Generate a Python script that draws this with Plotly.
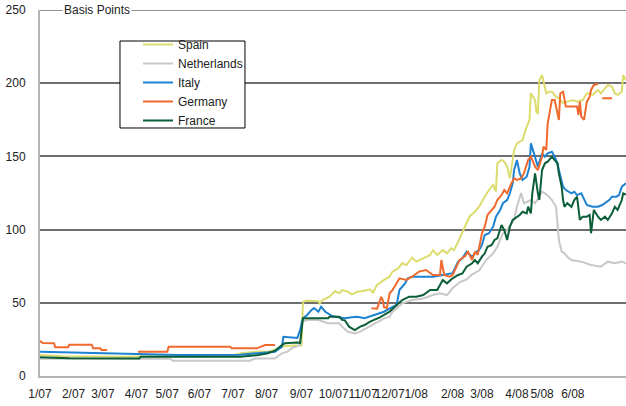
import plotly.graph_objects as go

# trading-day index of each observation and spread values (basis points)
spain_day = [0, 16, 57, 114, 136, 144, 154, 163, 168, 175, 184, 187, 188, 191, 199, 200, 202, 207, 211, 214, 216, 220, 223, 227, 232, 236, 238, 241, 246, 250, 252, 256, 259, 262, 266, 269, 274, 279, 281, 284, 288, 291, 294, 296, 299, 301, 304, 306, 307, 311, 314, 318, 321, 324, 326, 327, 330, 332, 334, 336, 338, 339, 341, 345, 348, 350, 351, 354, 355, 356, 357, 359, 362, 364, 366, 369, 371, 374, 377, 381, 384, 388, 391, 393, 395, 399, 401, 404, 406, 409, 411, 413, 416, 417, 419]
spain_bp = [14.3, 13.5, 13.2, 13.3, 13.8, 15.5, 16.6, 16.6, 18, 20.5, 21, 21, 50.7, 51.4, 51, 49.6, 51.9, 54.2, 58, 56.5, 58.7, 57.6, 55.8, 57.6, 58.3, 59.2, 56.9, 62.2, 65.6, 67.8, 71.3, 73.5, 77, 75.8, 81, 78.1, 80.4, 82.7, 86, 82.7, 86, 83.8, 87.2, 86, 91.7, 96.3, 103, 107.7, 108.8, 112.2, 115.6, 122.5, 127, 130.5, 125.9, 145.3, 147.5, 146.4, 143, 135, 147.5, 154.4, 158.9, 161.2, 170.3, 174.9, 193.1, 188.5, 180, 179.6, 202, 205.6, 193, 194.2, 194.2, 190.8, 189.7, 186.3, 187.4, 188.5, 187.4, 188.5, 193, 193, 192, 195.4, 193, 196.5, 198.8, 197.6, 193, 192, 194.2, 205.6, 202]

neth_day = [0, 93, 95, 150, 154, 168, 173, 177, 180, 184, 186, 187, 191, 199, 206, 214, 216, 220, 225, 229, 232, 237, 241, 246, 250, 252, 255, 259, 266, 274, 281, 286, 291, 295, 300, 305, 309, 314, 319, 324, 327, 331, 334, 337, 339, 341, 344, 346, 349, 351, 354, 356, 359, 361, 364, 366, 369, 370, 371, 373, 375, 377, 380, 387, 394, 401, 406, 411, 416, 419]
neth_bp = [11.8, 11.8, 10.5, 10.5, 12, 12, 15.5, 16.6, 19, 20, 21, 37, 38.3, 38.3, 36, 36, 33.7, 30.3, 29.1, 30.3, 31.9, 34.8, 37.1, 39.4, 40.5, 43.9, 46.2, 49.6, 51.9, 53, 55.3, 56.5, 55.3, 59.9, 64, 66, 69.5, 72, 79.2, 83.8, 88.3, 97.5, 99.7, 104.3, 106.6, 115.6, 125, 118, 119.1, 120.2, 118, 121, 125.9, 124.8, 122.5, 120.2, 115.6, 104.3, 92.9, 84.9, 83.8, 81.5, 79.2, 78.1, 75.8, 74.7, 78.1, 77, 78.1, 77]

italy_day = [0, 57, 71, 100, 143, 156, 168, 173, 174, 184, 186, 188, 191, 194, 196, 199, 201, 204, 206, 209, 213, 218, 223, 227, 232, 237, 241, 246, 250, 255, 257, 261, 263, 266, 274, 281, 288, 295, 299, 302, 305, 309, 312, 314, 316, 318, 321, 324, 326, 329, 331, 334, 336, 338, 339, 341, 343, 345, 348, 350, 351, 354, 356, 359, 361, 363, 366, 368, 370, 371, 373, 374, 376, 380, 382, 384, 387, 389, 391, 395, 399, 402, 405, 407, 409, 412, 414, 416, 419]
italy_bp = [16.6, 15.5, 14.8, 14.3, 14.5, 15.5, 16.6, 20, 26.8, 26, 31.4, 39.4, 41.7, 45, 46.4, 43.9, 47.3, 43.9, 42.8, 41, 40.1, 39.4, 40.1, 40.5, 39.4, 41, 42.8, 43.9, 46.2, 48.5, 58.7, 63.3, 66.7, 67.8, 67.8, 67.8, 69, 70.2, 78.1, 80.4, 84.9, 81.5, 84.9, 86, 89.5, 96.3, 97.5, 102, 108.8, 113.4, 118, 120.2, 124.8, 131.6, 140.7, 147.5, 138.4, 133.9, 136.1, 143, 158.9, 149.8, 143, 152.1, 149.8, 152.1, 153.2, 149.8, 145.3, 140.7, 131.6, 129.3, 127, 124.8, 125.9, 123.6, 124.8, 120.2, 116.8, 115.6, 115.6, 116.8, 119.1, 120.2, 122.5, 122.5, 123.6, 129.3, 131.6]

germany_day = [0, 2, 10, 11, 20, 21, 37, 38, 43, 44, 48, 55,
               70, 91, 92, 136, 137, 155, 161, 168, 200,
               237, 241, 244, 245, 246, 248, 250, 252, 255, 257, 262, 266, 271, 276, 281, 286, 287, 289, 293, 295, 300, 304, 306, 309, 311, 313, 316, 318, 320, 323, 325, 327, 330, 332, 334, 337, 339, 341, 344, 346, 349, 351, 354, 356, 359, 360, 362, 363, 366, 368, 370, 371, 372, 374, 376, 380, 384, 385, 386, 387, 389, 391, 393, 394, 396, 399, 400.5,
               402, 409]
germany_bp = [24, 22.5, 22.3, 19.6, 19.6, 21.4, 21.4, 18.9, 18.9, 17.8, 17.8, None,
              16.6, 16.6, 20, 20, 18.9, 18.9, 21.2, 21.2, None,
              46.2, 46, 54, 52, 47, 46.5, 56.5, 58.7, 63.3, 66.7, 65.6, 67.8, 71.3, 72.4, 69, 69, 79.2, 69, 67.8, 69, 79.2, 82, 84.9, 79.2, 84.9, 82.7, 97.5, 102, 110, 113.4, 115.6, 120.2, 123.6, 127, 124.8, 131.6, 135, 133.9, 135, 138.4, 147.5, 149.8, 143, 140.7, 149.8, 156.6, 154.4, 172.6, 188.5, 188.5, 179.4, 174.9, 193, 194.2, 184, 184, 184, 178.3, 187.4, 177.2, 174.9, 187.4, 190.8, 195.4, 198.8, 199.5, None,
              189.7, 189.7]

france_day = [0, 21, 71, 72, 143, 156, 163, 168, 173, 175, 184, 186, 188, 206, 207, 214, 216, 218, 221, 225, 229, 232, 236, 239, 243, 246, 250, 255, 259, 264, 269, 274, 279, 284, 288, 291, 295, 299, 302, 305, 309, 311, 313, 316, 318, 320, 323, 325, 327, 330, 332, 334, 336, 338, 341, 343, 345, 348, 349, 351, 352, 354, 356, 357, 359, 361, 363, 366, 368, 370, 371, 373, 374, 375, 377, 380, 382, 384, 386, 388, 391, 393, 394, 396, 399, 401, 404, 406, 409, 411, 413, 416, 417, 419]
france_bp = [12.8, 12.2, 12, 13.2, 13.2, 14.3, 15.5, 17.3, 21.2, 22.3, 22.8, 22.5, 39.4, 39.4, 40.5, 40.5, 38.3, 38, 33.7, 31.4, 33.7, 34.8, 37.1, 38.3, 40.1, 41.7, 44, 48.5, 51.9, 54.2, 54.2, 55.3, 58.7, 58.7, 65.6, 63.3, 66.7, 69, 70, 74.7, 77, 79.2, 77, 81.5, 83.8, 88.3, 89.5, 92.9, 94, 103.1, 99.7, 92.9, 102, 106.6, 108.8, 110, 112.2, 111.1, 115.6, 111.1, 124.8, 138.4, 124.8, 120.2, 140.7, 145.3, 146.4, 149.8, 147.5, 145.3, 138.4, 129.3, 120.2, 115.6, 118, 115.6, 120.2, 122.5, 106.6, 108.8, 108.8, 110, 97.5, 113.4, 108.8, 106.6, 108.8, 106.6, 111.1, 115.6, 113.4, 120.2, 124.8, 124]

tick_days = [0, 24, 45, 69, 91, 114, 138, 162, 187, 210, 231, 250, 269, 295, 316, 341, 359, 381]
tick_labels = ["1/07", "2/07", "3/07", "4/07", "5/07", "6/07", "7/07", "8/07", "9/07",
               "10/07", "11/07", "12/07", "1/08", "2/08", "3/08", "4/08", "5/08", "6/08"]
y_ticks = [0, 50, 100, 150, 200, 250]

series = [
    ("Spain", spain_day, spain_bp, "#dcdc6e"),
    ("Netherlands", neth_day, neth_bp, "#c8c8c8"),
    ("Italy", italy_day, italy_bp, "#1e82d2"),
    ("Germany", germany_day, germany_bp, "#f0692d"),
    ("France", france_day, france_bp, "#0b5e38"),
]

fig = go.Figure()
for name, xs, ys, color in series:
    fig.add_trace(go.Scatter(x=xs, y=ys, name=name, mode="lines",
                             line=dict(color=color, width=2), connectgaps=False))

FONT = "Liberation Sans, Arial, sans-serif"
font = dict(family=FONT, size=12, color="#222222")
GRID = "#6e6e6e"

fig.update_layout(
    width=626, height=406,
    margin=dict(l=40, r=0, t=10, b=30),
    paper_bgcolor="white", plot_bgcolor="white",
    font=font,
    showlegend=True,
    legend=dict(x=0.1672, y=0.9454, xanchor="left", yanchor="top",
                bgcolor="rgba(0,0,0,0)", borderwidth=0,
                font=dict(family=FONT, size=12, color="#222222"),
                itemwidth=30, tracegroupgap=0),
    xaxis=dict(range=[0, 419], tickmode="array", tickvals=tick_days, ticktext=tick_labels,
               showgrid=False, zeroline=False, showline=True, linecolor="#b4b4b4", linewidth=2,
               ticks="", ticklabelstandoff=6, tickangle=0),
    yaxis=dict(range=[0, 250], tickvals=y_ticks,
               showgrid=True, gridcolor=GRID, gridwidth=1.5,
               zeroline=False, showline=True, linecolor="#b4b4b4", linewidth=2,
               ticks="", ticklabelstandoff=10),
    shapes=[
        dict(type="line", xref="paper", yref="y", x0=0, x1=1, y0=y_ticks[-1], y1=y_ticks[-1],
             line=dict(color=GRID, width=1.5), layer="below"),
        dict(type="rect", xref="paper", yref="paper",
             x0=0.1365, x1=0.3498, y0=0.6776, y1=0.9153,
             fillcolor="white", line=dict(color="#000000", width=1), layer="above"),
    ],
    annotations=[dict(text="Basis Points", xref="paper", yref="paper",
                      x=22 / 586, y=1, xanchor="left", yanchor="middle",
                      showarrow=False, bgcolor="white", borderpad=1,
                      font=dict(family=FONT, size=12, color="#222222"))],
)

fig.write_html("out.html", config={"displayModeBar": False},
               post_script="document.body.style.margin='0';")
